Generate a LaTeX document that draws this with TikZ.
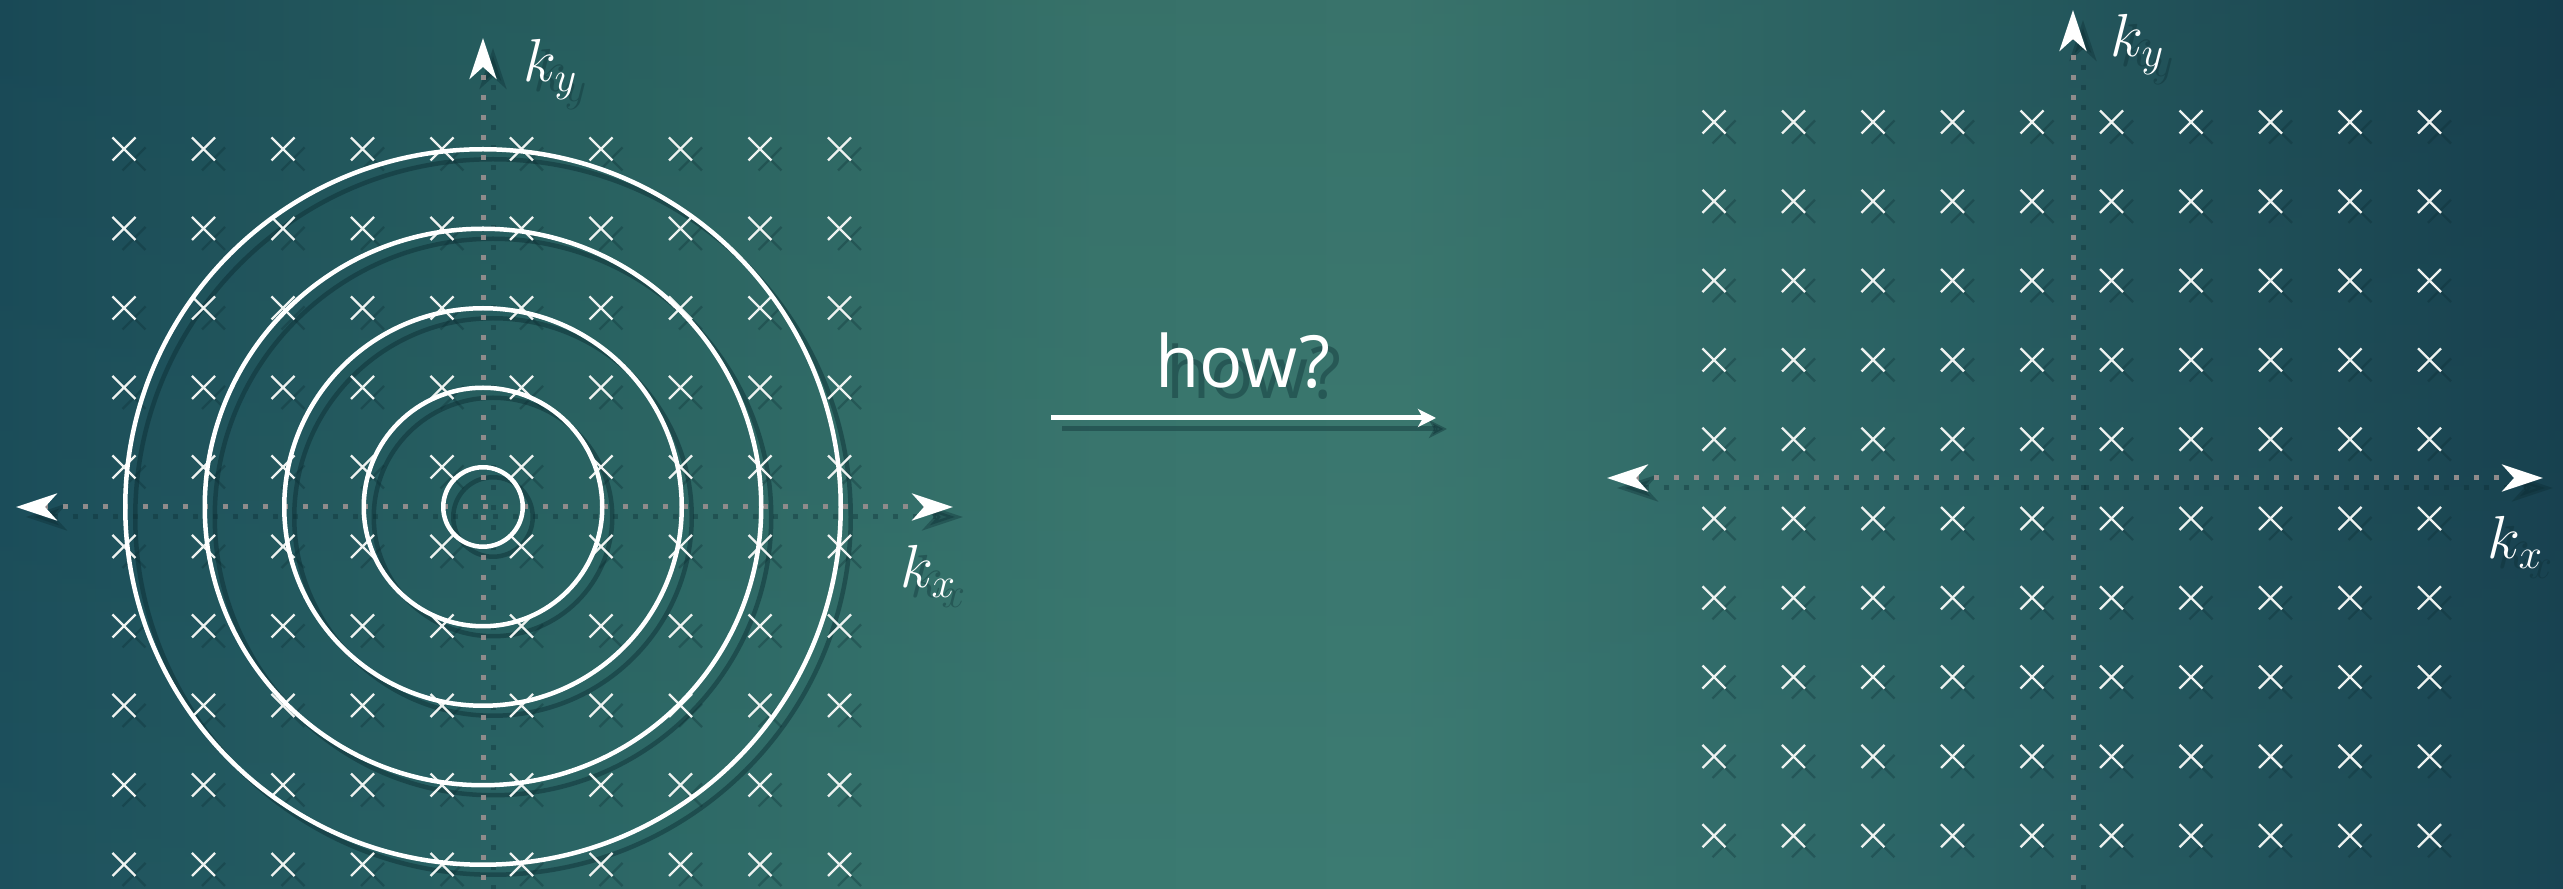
\documentclass[tikz,border=0pt]{standalone}
\usepackage{fontspec}
\newfontfamily\howfont{Open Sans}
\usetikzlibrary{arrows.meta}
\definecolor{bgA}{HTML}{1B4C59}
\definecolor{bgB}{HTML}{2C6663}
\definecolor{bgC}{HTML}{3B786E}
\definecolor{bgCC}{HTML}{3D7A70}
\definecolor{bgD}{HTML}{2A6163}
\definecolor{bgE}{HTML}{173F4E}
\definecolor{shad}{HTML}{0B2B31}
\definecolor{dotc}{HTML}{8F8B8B}
\definecolor{crossc}{HTML}{EEF2F0}
\definecolor{vtop}{HTML}{0A2A38}
\definecolor{vbot}{HTML}{3A8A90}
\tikzset{
  axhead/.tip={Stealth[length=4.1mm,width=2.7mm,inset=1.2mm]},
  howhead/.tip={Stealth[length=1.8mm,width=1.8mm,inset=0.5mm]},
  axisst/.style={draw=dotc,line width=0.5mm,dash pattern=on 0.5mm off 1.5mm},
  crossst/.style={draw=crossc,line width=0.23mm},
  circst/.style={draw=white,line width=0.45mm},
  labst/.style={text=white,inner sep=0pt,font=\fontsize{17.28}{20}\selectfont},
  howst/.style={text=white,inner sep=0pt,font=\howfont\fontsize{20.5}{24}\selectfont},
  howline/.style={draw=white,line width=0.5mm},
}
\def\tipc{white}
\newcommand\leftpanel[1]{%
  \coordinate (#1Lw) at (16,507);
  \coordinate (#1Le) at (953,507);
  \coordinate (#1Ls) at (483,900);
  \coordinate (#1Ln) at (483,38);
  \coordinate (#1Lc) at (483,507);
  \draw[axisst,{axhead[color=\tipc]}-{axhead[color=\tipc]}] (#1Lw) -- (#1Le);
  \draw[axisst,-{axhead[color=\tipc]}] (#1Ls) -- (#1Ln);
  \foreach \i in {0,...,9}{\foreach \j in {0,...,9}{%
    \draw[crossst] ({124+79.5*\i-11.5},{149+79.5*\j-11.5}) -- ++(23,23) ++(0,-23) -- ++(-23,23);}}
  \foreach \r in {0.5,1.5,2.5,3.5,4.5}{\draw[circst] (#1Lc) circle [radius=\r*7.95mm];}
  \node[labst,anchor=base west] (#1Lkx) at (900,588) {$k_x$};
  \node[labst,anchor=base west] (#1Lky) at (523,82) {$k_y$};
}
\newcommand\rightpanel[1]{%
  \coordinate (#1Rw) at (1607,478);
  \coordinate (#1Re) at (2543,478);
  \coordinate (#1Rs) at (2073,900);
  \coordinate (#1Rn) at (2073,10);
  \draw[axisst,{axhead[color=\tipc]}-{axhead[color=\tipc]}] (#1Rw) -- (#1Re);
  \draw[axisst,-{axhead[color=\tipc]}] (#1Rs) -- (#1Rn);
  \foreach \i in {0,...,9}{\foreach \j in {0,...,9}{%
    \draw[crossst] ({1714+79.5*\i-11.5},{122+79.3*\j-11.5}) -- ++(23,23) ++(0,-23) -- ++(-23,23);}}
  \node[labst,anchor=base west] (#1Rkx) at (2487,559) {$k_x$};
  \node[labst,anchor=base west] (#1Rky) at (2110,57) {$k_y$};
}
\newcommand\midpart[1]{%
  \coordinate (#1hs) at (1051,418);
  \coordinate (#1he) at (1436,418);
  \draw[howline,-{howhead[color=\tipc]}] (#1hs) -- (#1he);
  \node[howst,anchor=base] (#1how) at (1243,388) {how?};
}
\begin{document}
\begin{tikzpicture}[x=0.1mm,y=-0.1mm]
\useasboundingbox (0,0) rectangle (2563,889);
\shade[left color=bgA,right color=bgB] (0,0) rectangle (641,889);
\shade[left color=bgB,right color=bgC] (640,0) rectangle (1101,889);
\shade[left color=bgC,right color=bgCC] (1100,0) rectangle (1401,889);
\shade[left color=bgCC,right color=bgD] (1400,0) rectangle (1951,889);
\shade[left color=bgD,right color=bgE] (1950,0) rectangle (2563,889);
\shade[top color=vtop,bottom color=vbot,opacity=0.08] (0,0) rectangle (2563,889);
% shadows
\begin{scope}[shift={(10,10)},
   axisst/.style={draw=shad,opacity=0.35,line width=0.5mm,dash pattern=on 0.5mm off 1.5mm},
   crossst/.style={draw=shad,opacity=0.3,line width=0.23mm},
   circst/.style={draw=shad,opacity=0.45,line width=0.45mm},
   labst/.style={text=shad,opacity=0.35,inner sep=0pt,font=\fontsize{17.28}{20}\selectfont}]
  \def\tipc{shad}
  \leftpanel{s}
  \rightpanel{s}
\end{scope}
\begin{scope}[shift={(11,11)},
   howst/.style={text=shad,opacity=0.4,inner sep=0pt,font=\howfont\fontsize{20.5}{24}\selectfont},
   howline/.style={draw=shad,opacity=0.4,line width=0.5mm}]
  \def\tipc{shad}
  \midpart{s}
\end{scope}
% main
\leftpanel{}
\rightpanel{}
\midpart{}
\end{tikzpicture}
\end{document}
